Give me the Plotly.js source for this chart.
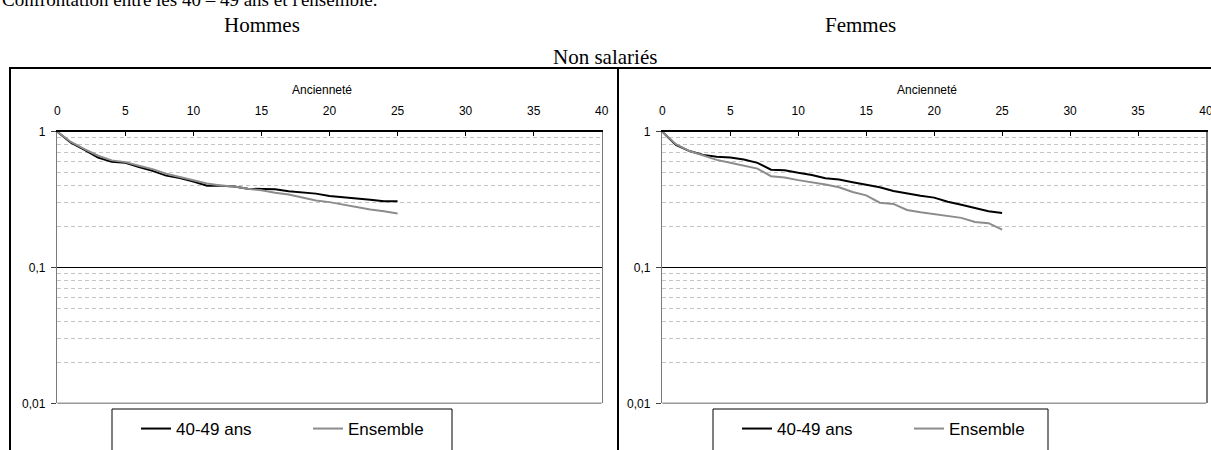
<!DOCTYPE html>
<html><head><meta charset="utf-8">
<script src="https://cdn.plot.ly/plotly-3.0.1.min.js"></script>
<style>body{margin:0;background:#fff}#chart{width:1211px;height:450px}</style>
</head><body><div id="chart"></div>
<script>
// ---- data ----
const anciennete = [0,1,2,3,4,5,6,7,8,9,10,11,12,13,14,15,16,17,18,19,20,21,22,23,24,25];
const hommes4049 = [1,0.83,0.735,0.645,0.60,0.59,0.55,0.515,0.475,0.455,0.43,0.40,0.40,0.395,0.38,0.38,0.377,0.365,0.357,0.35,0.336,0.33,0.325,0.316,0.307,0.307];
const hommesEnsemble = [1,0.84,0.745,0.665,0.615,0.597,0.562,0.53,0.49,0.465,0.44,0.415,0.402,0.395,0.38,0.37,0.355,0.345,0.328,0.312,0.303,0.29,0.278,0.267,0.26,0.25];
const femmes4049 = [1,0.80,0.72,0.675,0.655,0.645,0.625,0.59,0.525,0.52,0.498,0.48,0.455,0.445,0.425,0.405,0.39,0.366,0.35,0.338,0.327,0.305,0.29,0.275,0.26,0.252];
const femmesEnsemble = [1,0.81,0.72,0.665,0.62,0.59,0.565,0.535,0.47,0.46,0.44,0.425,0.408,0.39,0.36,0.34,0.30,0.294,0.265,0.255,0.248,0.24,0.232,0.216,0.212,0.19];
const seriesNames = ['40-49 ans','Ensemble'];
const xTickVals = [0,5,10,15,20,25,30,35,40];
const yTickVals = [0.01,0.1,1];
const yTickText = ['0,01','0,1','1'];
const yMinorVals = [0.02,0.03,0.04,0.05,0.06,0.07,0.08,0.09,0.2,0.3,0.4,0.5,0.6,0.7,0.8,0.9];
const panelTitles = ['Hommes','Femmes'];
const mainTitle = "Confrontation entre les 40 – 49 ans et l'ensemble.";
const subTitle = 'Non salariés';
const xTitle = 'Ancienneté';

// ---- layout helpers ----
const W = 1211, H = 450;
const fx = p => p / W;
const fy = p => 1 - p / H;
const BLACK = '#000000', GREY = '#8c8c8c';
const sans = 'Liberation Sans, Arial, sans-serif';
const serif = 'Liberation Serif, Times New Roman, serif';

function xAxis(d0, d1, anchor) {
  return {domain: [fx(d0), fx(d1)], range: [0, 40], side: 'top', anchor: anchor,
    tickvals: xTickVals, ticks: 'inside', ticklen: 4, tickcolor: BLACK, tickwidth: 1,
    showline: true, linecolor: BLACK, linewidth: 1.5, showgrid: false, zeroline: false,
    ticklabeloverflow: 'allow',
    tickfont: {family: sans, size: 12, color: '#000'}, ticklabelstandoff: 10, fixedrange: true};
}
function yAxis(anchor) {
  return {type: 'log', range: [-2, 0], domain: [fy(403.3), fy(131.7)], anchor: anchor,
    tickvals: yTickVals, ticktext: yTickText, ticks: 'outside', ticklen: 5, tickcolor: '#444',
    showline: true, linecolor: '#7a7a7a', linewidth: 1.5, mirror: true,
    showgrid: true, gridcolor: BLACK, gridwidth: 1, zeroline: false,
    minor: {tickvals: yMinorVals, showgrid: true, gridcolor: '#c4c4c4', griddash: '4px,3px', gridwidth: 1, ticks: ''},
    tickfont: {family: sans, size: 12, color: '#000'}, ticklabelstandoff: 3, fixedrange: true};
}

const traces = [
  {x: anciennete, y: hommes4049, name: seriesNames[0], xaxis: 'x', yaxis: 'y', legend: 'legend', mode: 'lines', line: {color: BLACK, width: 2}},
  {x: anciennete, y: hommesEnsemble, name: seriesNames[1], xaxis: 'x', yaxis: 'y', legend: 'legend', mode: 'lines', line: {color: GREY, width: 2}},
  {x: anciennete, y: femmes4049, name: seriesNames[0], xaxis: 'x2', yaxis: 'y2', legend: 'legend2', mode: 'lines', line: {color: BLACK, width: 2}},
  {x: anciennete, y: femmesEnsemble, name: seriesNames[1], xaxis: 'x2', yaxis: 'y2', legend: 'legend2', mode: 'lines', line: {color: GREY, width: 2}}
];

function legendCfg(left) {
  return {x: fx(left), y: fy(411), xanchor: 'left', yanchor: 'top', orientation: 'h',
    font: {family: sans, size: 17, color: '#000'}, bgcolor: 'rgba(0,0,0,0)', borderwidth: 0,
    entrywidth: 127, entrywidthmode: 'pixels', itemclick: false, itemdoubleclick: false,
    tracegroupgap: 0};
}

const shapes = [
  {type: 'line', xref: 'paper', yref: 'paper', x0: fx(9), x1: 1.01, y0: fy(68), y1: fy(68), line: {color: BLACK, width: 2}},
  {type: 'line', xref: 'paper', yref: 'paper', x0: fx(10), x1: fx(10), y0: fy(68), y1: -0.05, line: {color: BLACK, width: 2}},
  {type: 'line', xref: 'paper', yref: 'paper', x0: fx(618), x1: fx(618), y0: fy(68), y1: -0.05, line: {color: BLACK, width: 2}},
  {type: 'line', xref: 'x domain', yref: 'y domain', x0: 0, x1: 1, y0: 0, y1: 0, line: {color: '#9a9a9a', width: 1.5}},
  {type: 'line', xref: 'x2 domain', yref: 'y2 domain', x0: 0, x1: 1, y0: 0, y1: 0, line: {color: '#9a9a9a', width: 1.5}},
  {type: 'rect', xref: 'paper', yref: 'paper', x0: fx(112), x1: fx(452), y0: fy(409), y1: -0.1, line: {color: BLACK, width: 1}, fillcolor: 'rgba(0,0,0,0)'},
  {type: 'rect', xref: 'paper', yref: 'paper', x0: fx(713), x1: fx(1048), y0: fy(409), y1: -0.1, line: {color: BLACK, width: 1}, fillcolor: 'rgba(0,0,0,0)'}
];

const annotations = [
  {text: mainTitle, xref: 'paper', yref: 'paper', x: fx(0), y: fy(-1), xanchor: 'left', yanchor: 'middle', showarrow: false, font: {family: serif, size: 19, color: '#000'}},
  {text: panelTitles[0], xref: 'paper', yref: 'paper', x: fx(262), y: fy(25), xanchor: 'center', yanchor: 'middle', showarrow: false, font: {family: serif, size: 21, color: '#000'}},
  {text: panelTitles[1], xref: 'paper', yref: 'paper', x: fx(860), y: fy(25), xanchor: 'center', yanchor: 'middle', showarrow: false, font: {family: serif, size: 21, color: '#000'}},
  {text: subTitle, xref: 'paper', yref: 'paper', x: fx(605), y: fy(57), xanchor: 'center', yanchor: 'middle', showarrow: false, font: {family: serif, size: 21, color: '#000'}},
  {text: xTitle, xref: 'paper', yref: 'paper', x: fx(322), y: fy(90), xanchor: 'center', yanchor: 'middle', showarrow: false, font: {family: sans, size: 12, color: '#000'}},
  {text: xTitle, xref: 'paper', yref: 'paper', x: fx(927), y: fy(90), xanchor: 'center', yanchor: 'middle', showarrow: false, font: {family: sans, size: 12, color: '#000'}}
];

const layout = {
  width: W, height: H, margin: {l: 0, r: 0, t: 0, b: 0},
  paper_bgcolor: '#fff', plot_bgcolor: '#fff', showlegend: true,
  xaxis: xAxis(57.3, 601.7, 'y'), yaxis: yAxis('x'),
  xaxis2: xAxis(662.3, 1206, 'y2'), yaxis2: yAxis('x2'),
  legend: legendCfg(136), legend2: legendCfg(737),
  shapes: shapes, annotations: annotations
};

Plotly.newPlot('chart', traces, layout, {displayModeBar: false, staticPlot: true});
</script></body></html>
